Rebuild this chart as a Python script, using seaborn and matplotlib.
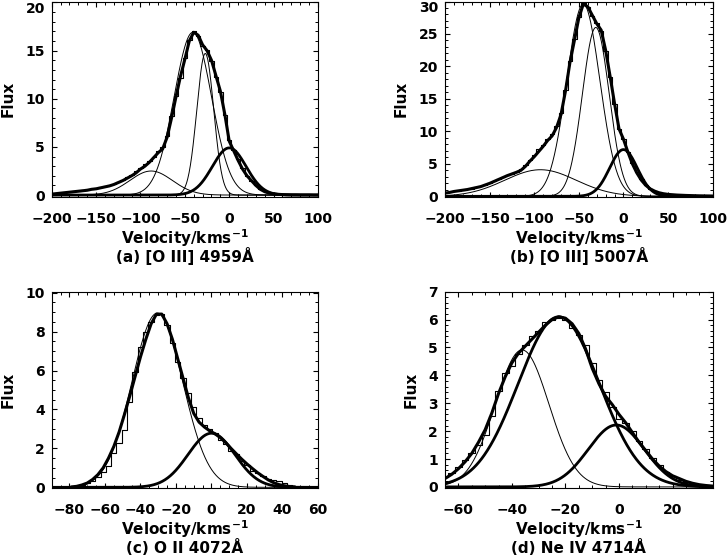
import numpy as np
import pandas as pd
import matplotlib
matplotlib.use('Agg')
import matplotlib.pyplot as plt
import matplotlib.transforms as mtransforms
import seaborn as sns
from matplotlib.ticker import MultipleLocator

# ---- panel (a) [O III] 4959
vel_a = np.arange(-200, 101, 5)
obs_a = [0.1, 0.15, 0.2, 0.3, 0.35, 0.4, 0.45, 0.5, 0.6, 0.65, 0.7, 0.8, 0.9, 1.0, 1.2, 1.4,
         1.6, 1.9, 2.1, 2.45, 2.8, 3.2, 3.5, 4.0, 4.6, 5.0,
         6.1, 8.2, 10.3, 12.2, 14.2, 16.1, 17.0, 16.5, 15.5, 15.1, 13.9, 12.3, 10.7, 8.3, 5.7,
         4.7, 3.7, 2.8, 2.0, 1.5, 1.0, 0.65, 0.4, 0.25, 0.15, 0.1, 0.07, 0.05, 0.04, 0.03,
         0.03, 0.02, 0.02, 0.02, 0.01]
fit_a = [0.1, 0.15, 0.2, 0.25, 0.3, 0.35, 0.4, 0.45, 0.5, 0.6, 0.65, 0.75, 0.85, 0.95, 1.1, 1.3,
         1.5, 1.75, 2.0, 2.3, 2.7, 3.0, 3.4, 3.9, 4.4, 4.8,
         6.0, 8.0, 10.2, 12.3, 14.1, 16.0, 16.9, 16.6, 15.6, 15.0, 14.0, 12.4, 10.8, 8.4, 5.6,
         4.6, 3.6, 2.7, 2.0, 1.5, 1.0, 0.6, 0.35, 0.2, 0.12, 0.08, 0.05, 0.04, 0.03, 0.03,
         0.02, 0.02, 0.02, 0.01, 0.01]
cen_a = [-41, -27, 0, -88]
amp_a = [16.9, 14.7, 4.9, 2.5]
sig_a = [21, 9.5, 19, 24]

# ---- panel (b) [O III] 5007
vel_b = np.arange(-200, 101, 5)
obs_b = [0.5, 0.6, 0.75, 0.85, 0.95, 1.1, 1.2, 1.4, 1.55, 1.8, 2.05, 2.35, 2.6, 2.95, 3.25, 3.5,
         3.8, 4.2, 4.8, 5.6, 6.4, 7.3, 7.9, 8.9, 9.6, 10.9,
         12.8, 16.4, 20.8, 24.2, 27.6, 29.8, 29.2, 27.8, 26.7, 25.5, 22.4, 18.4, 14.2, 10.3, 8.9,
         6.9, 5.1, 3.7, 2.6, 1.8, 1.2, 0.85, 0.6, 0.45, 0.35, 0.28, 0.22, 0.18, 0.15, 0.12,
         0.1, 0.08, 0.07, 0.06, 0.05]
fit_b = [0.5, 0.6, 0.75, 0.85, 0.95, 1.05, 1.2, 1.35, 1.5, 1.75, 2.0, 2.3, 2.6, 2.9, 3.2, 3.45,
         3.7, 4.0, 4.6, 5.4, 6.1, 6.9, 7.7, 8.6, 9.3, 10.6,
         12.6, 16.2, 20.6, 24.0, 27.5, 29.6, 29.2, 27.9, 26.6, 25.6, 22.5, 18.5, 14.3, 10.4, 8.8,
         6.8, 5.0, 3.6, 2.5, 1.7, 1.15, 0.8, 0.55, 0.4, 0.3, 0.25, 0.2, 0.17, 0.14, 0.12,
         0.1, 0.08, 0.07, 0.06, 0.05]
cen_b = [-45, -31, 0, -93]
amp_b = [29.6, 26.0, 7.2, 4.1]
sig_b = [18.5, 15, 15.5, 40]

# ---- panel (c) O II 4072
vel_c = np.arange(-79, 48, 3)
obs_c = [0.0, 0.02, 0.1, 0.2, 0.3, 0.55, 0.8, 1.1, 1.75, 2.3,
         2.95, 4.4, 5.95, 7.23, 7.97, 8.5, 8.86, 8.9, 8.35, 7.43,
         6.46, 5.6, 4.83, 4.14, 3.55, 3.2, 3.0, 2.8, 2.45, 2.25,
         1.85, 1.7, 1.35, 1.15, 0.85, 0.75, 0.6, 0.45, 0.38, 0.3,
         0.2, 0.1, 0.05]
fit_c = [0.02, 0.05, 0.12, 0.22, 0.4, 0.65, 1.0, 1.5, 2.1, 2.85,
         3.75, 4.7, 5.7, 6.7, 7.6, 8.4, 8.9, 8.9, 8.4, 7.6,
         6.6, 5.6, 4.6, 3.8, 3.35, 3.1, 2.9, 2.75, 2.55, 2.3,
         2.0, 1.72, 1.45, 1.2, 0.97, 0.75, 0.56, 0.38, 0.24, 0.14,
         0.08, 0.04, 0.02]
cen_c = [-30.5, 0]
amp_c = [8.95, 2.78]
sig_c = [14.3, 13.2]

# ---- panel (d) Ne IV 4714
vel_d = np.arange(-65, 35.1, 2.5)
obs_d = [0.35, 0.5, 0.72, 0.95, 1.2, 1.5, 1.85, 2.55, 3.45, 4.1,
         4.35, 4.75, 5.1, 5.4, 5.6, 5.9, 6.0, 6.05, 6.0, 5.7,
         5.45, 5.1, 4.45, 3.85, 3.4, 2.85, 2.45, 2.3, 2.0, 1.65,
         1.35, 1.05, 0.8, 0.55, 0.4, 0.25, 0.18, 0.12, 0.08, 0.05,
         0.03]
fit_d = [0.3, 0.45, 0.65, 0.9, 1.2, 1.6, 2.05, 2.65, 3.35, 3.95,
         4.45, 4.8, 5.05, 5.3, 5.55, 5.8, 6.0, 6.1, 6.05, 5.85,
         5.5, 4.95, 4.25, 3.7, 3.25, 2.95, 2.6, 2.3, 1.95, 1.6,
         1.3, 1.0, 0.75, 0.55, 0.4, 0.3, 0.2, 0.13, 0.08, 0.05,
         0.03]
cen_d = [-22.5, -36.2, -1]
amp_d = [6.1, 4.91, 2.22]
sig_d = [15.2, 10, 10.5]

captions = ['(a) [O III] 4959\u00c5', '(b) [O III] 5007\u00c5',
            '(c) O II 4072\u00c5', '(d) Ne IV 4714\u00c5']

sns.set_theme(style='ticks')
plt.rcParams.update({
    'font.family': ['DejaVu Sans'],
    'font.weight': 'bold',
    'mathtext.default': 'bf',
    'text.color': 'black',
    'axes.labelcolor': 'black',
    'axes.linewidth': 0.8,
    'axes.edgecolor': 'black',
    'axes.facecolor': 'white',
    'figure.facecolor': 'white',
    'xtick.direction': 'in',
    'ytick.direction': 'in',
    'xtick.top': True,
    'ytick.right': True,
    'xtick.minor.visible': True,
    'ytick.minor.visible': True,
    'xtick.major.size': 3.8,
    'ytick.major.size': 3.8,
    'xtick.minor.size': 1.9,
    'ytick.minor.size': 1.9,
    'xtick.major.width': 0.8,
    'ytick.major.width': 0.8,
    'xtick.minor.width': 0.7,
    'ytick.minor.width': 0.7,
    'xtick.major.pad': 10.5,
    'ytick.major.pad': 5,
    'xtick.labelsize': 10,
    'ytick.labelsize': 10,
    'xtick.color': 'black',
    'ytick.color': 'black',
})

W, H = 727, 556
fig = plt.figure(figsize=(W / 100, H / 100), dpi=100)


def px_axes(left, top, right, bottom):
    return fig.add_axes([left / W, 1 - bottom / H, (right - left) / W, (bottom - top) / H])


ax_a = px_axes(51.7, 1.5, 318, 197)
ax_b = px_axes(445, 1.5, 712.7, 197)
ax_c = px_axes(51.7, 291.7, 318, 488.3)
ax_d = px_axes(445, 291.7, 712.7, 488.3)

panels = [
    (ax_a, vel_a, obs_a, fit_a, cen_a, amp_a, sig_a, [False, False, True, False],
     (-200, 100), (-0.2, 20.1), 50, 10, 5, 1),
    (ax_b, vel_b, obs_b, fit_b, cen_b, amp_b, sig_b, [False, False, True, False],
     (-200, 100), (-0.1, 30.0), 50, 10, 5, 1),
    (ax_c, vel_c, obs_c, fit_c, cen_c, amp_c, sig_c, [False, True],
     (-90, 60), (-0.05, 10.05), 20, 5, 2, 0.5),
    (ax_d, vel_d, obs_d, fit_d, cen_d, amp_d, sig_d, [True, False, True],
     (-65, 35), (-0.05, 7.0), 20, 5, 1, 0.2),
]

# nudge the top y label of the upper panels down, as in the original layout
nudge = mtransforms.ScaledTranslation(0, -5 / 100, fig.dpi_scale_trans)

for (ax, vel, obs, fit, cen, amp, sig, heavy, xlim, ylim, xmaj, xmin, ymaj, ymin), cap in zip(panels, captions):
    # observed profile as histogram steps
    sns.lineplot(x=vel, y=obs, ax=ax, color='black', lw=0.8, drawstyle='steps-mid',
                 estimator=None, sort=False)
    # total fit
    sns.lineplot(x=vel, y=fit, ax=ax, color='black', lw=2.2, estimator=None, sort=False)
    # gaussian components
    vv = np.linspace(xlim[0], xlim[1], 600)
    for c, a, s, h in zip(cen, amp, sig, heavy):
        g = a * np.exp(-0.5 * ((vv - c) / s) ** 2)
        sns.lineplot(x=vv, y=g, ax=ax, color='black', lw=2.0 if h else 0.7,
                     estimator=None, sort=False)

    ax.set_xlim(*xlim)
    ax.set_ylim(*ylim)
    ax.xaxis.set_major_locator(MultipleLocator(xmaj))
    ax.xaxis.set_minor_locator(MultipleLocator(xmin))
    ax.yaxis.set_major_locator(MultipleLocator(ymaj))
    ax.yaxis.set_minor_locator(MultipleLocator(ymin))
    ax.tick_params(which='both', top=True, right=True)
    for lab in ax.get_xticklabels() + ax.get_yticklabels():
        lab.set_fontweight('bold')

    axh = ax.get_position().height * H
    ax.text(0.5, -41 / axh, 'Velocity/kms$^{-1}$', transform=ax.transAxes,
            ha='center', va='center', fontsize=11, fontweight='bold')
    ax.text(0.5, -59 / axh, cap, transform=ax.transAxes,
            ha='center', va='center', fontsize=11, fontweight='bold')
    ax.set_xlabel('')
    ax.set_ylabel('Flux', fontsize=11, fontweight='bold', labelpad=7)

for ax in (ax_a, ax_b):
    top_tick = ax.yaxis.get_major_ticks()
    labels = ax.get_yticklabels()
    for t, lab in zip(ax.get_yticks(), labels):
        if abs(t - ax.get_ylim()[1]) < 0.5:
            lab.set_transform(lab.get_transform() + nudge)

fig.savefig('out.png', dpi=100)
